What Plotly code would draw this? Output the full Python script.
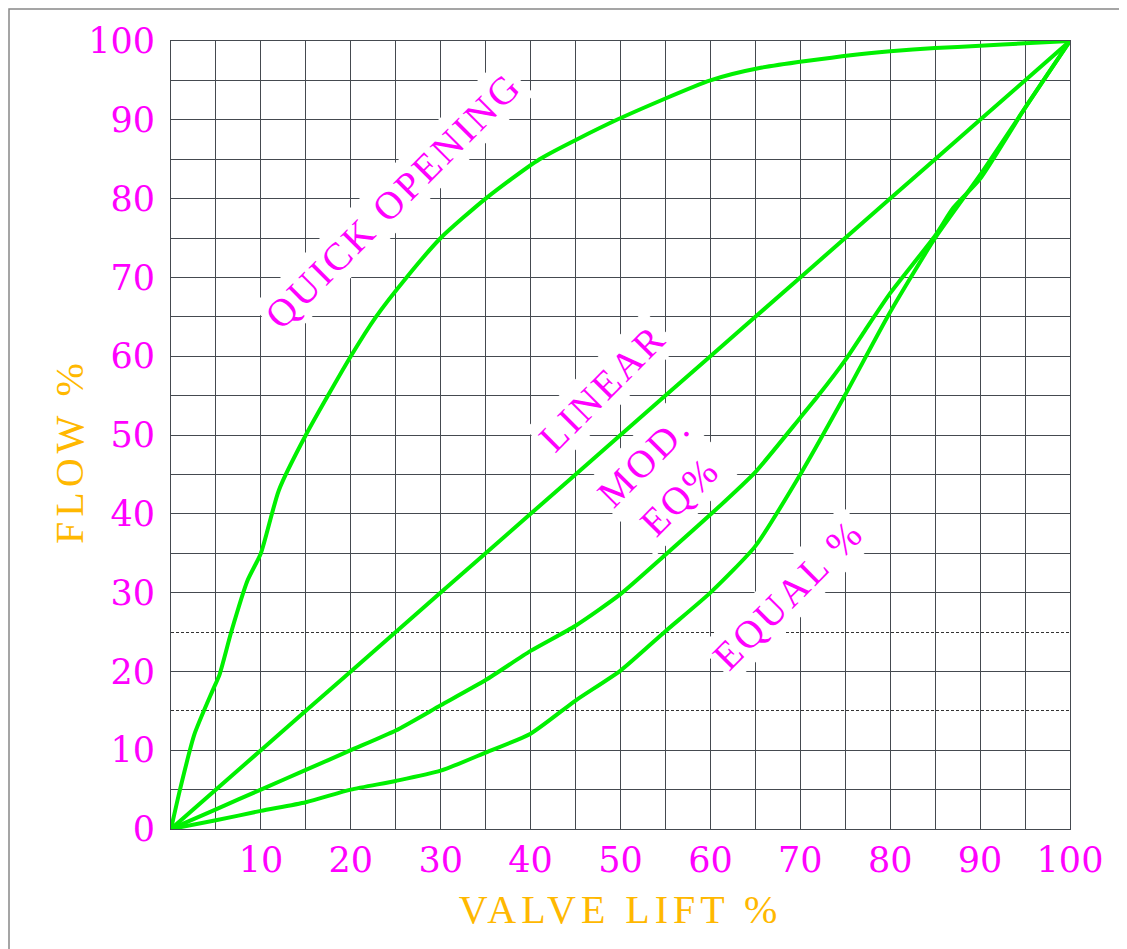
import plotly.graph_objects as go

# ---- data ----
lift_quick = [0, 1, 2.6, 4.6, 5.4, 6.7, 8.5, 10, 12, 15, 20, 22.8, 26.2, 30, 35, 41, 49.6, 60, 65.6, 75.6, 80, 85, 90, 95, 100]
flow_quick = [0, 5, 12, 17.5, 19.6, 25, 31.5, 35, 43, 50, 60, 65, 70, 75, 80, 85, 90, 95, 96.6, 98.2, 98.7, 99.1, 99.4, 99.7, 100]

lift_linear = [0, 10, 20, 30, 40, 50, 60, 70, 80, 90, 100]
flow_linear = [0, 10, 20, 30, 40, 50, 60, 70, 80, 90, 100]

lift_mod = [0, 5, 10, 15, 20, 25, 30, 35, 40, 45, 50, 55, 60, 65, 70, 72, 75, 77.1, 80, 85, 87, 90, 95, 100]
flow_mod = [0, 2.5, 5, 7.5, 10, 12.5, 15.7, 18.9, 22.6, 25.8, 29.8, 34.8, 39.9, 45.3, 52.2, 55, 59.5, 63.1, 68, 75.3, 78.8, 82.5, 91.5, 100]

lift_equal = [0, 5, 10, 15, 20, 25, 30, 35, 40, 45, 50, 55, 60, 65, 70, 75, 80, 85, 90, 95, 100]
flow_equal = [0, 1.1, 2.3, 3.4, 5, 6.1, 7.4, 9.7, 12.1, 16.3, 20.1, 25.1, 30, 35.9, 45, 55.1, 65.6, 75, 83, 91.5, 100]

x_ticks = [10, 20, 30, 40, 50, 60, 70, 80, 90, 100]
y_ticks = [0, 10, 20, 30, 40, 50, 60, 70, 80, 90, 100]
grid_x = list(range(0, 101, 5))
grid_y = [v for v in range(0, 101, 5) if v not in (15, 25)]
dashed_y = [15, 25]

labels = ["QUICK OPENING", "LINEAR", "MOD.<br>EQ%", "EQUAL %"]
label_x = [24.7, 48.0, 54.6, 68.6]
label_y = [79.7, 56.0, 44.6, 29.8]

GREEN = "#00F000"
MAGENTA = "#FF00FF"
ORANGE = "#FFB800"
GRID = "#454a50"

fig = go.Figure()
for xs, ys in [(lift_quick, flow_quick), (lift_linear, flow_linear),
               (lift_mod, flow_mod), (lift_equal, flow_equal)]:
    fig.add_trace(go.Scatter(x=xs, y=ys, mode="lines",
                             line=dict(color=GREEN, width=4, shape="spline", smoothing=0.6),
                             showlegend=False, hoverinfo="skip"))

for t, ax, ay in zip(labels, label_x, label_y):
    fig.add_annotation(x=ax, y=ay, xref="x", yref="y", showarrow=False,
                       text='<span style="letter-spacing:3px">' + t + '</span>',
                       textangle=-45, bgcolor="white", borderpad=3,
                       font=dict(family="Liberation Serif", size=39, color=MAGENTA))

# y-axis title
fig.add_annotation(x=(68 - 170) / 899, y=(828 - 450) / 788, xref="paper", yref="paper",
                   xanchor="center", yanchor="middle",
                   showarrow=False, textangle=-90,
                   text='<span style="letter-spacing:5px">FLOW %</span>',
                   font=dict(family="Liberation Serif", size=40, color=ORANGE))

# figure border
fig.add_shape(type="rect", xref="paper", yref="paper",
              x0=(8 - 170) / 899, x1=(1140 - 170) / 899,
              y0=(828 - 960) / 788, y1=(828 - 8) / 788,
              line=dict(color="#888888", width=1.5), fillcolor="rgba(0,0,0,0)", layer="below")

x_text = {v: (str(v) if v in x_ticks else "") for v in grid_x}
y_text = {v: (str(v) if v in y_ticks else "") for v in grid_y}

fig.update_layout(
    width=1127, height=949,
    margin=dict(l=163, r=65, t=33, b=128),
    paper_bgcolor="white", plot_bgcolor="white",
    xaxis=dict(range=[0, 100], tickmode="array", tickvals=grid_x,
               ticktext=[x_text[v] for v in grid_x],
               showgrid=True, gridcolor=GRID, gridwidth=1, zeroline=False,
               showline=True, mirror=True, linecolor=GRID, linewidth=1,
               ticks="", ticklabelstandoff=0,
               tickfont=dict(family="DejaVu Serif", size=35, color=MAGENTA),
               title=dict(text='<span style="letter-spacing:5px">VALVE LIFT %</span>',
                          font=dict(family="Liberation Serif", size=40, color=ORANGE),
                          standoff=15)),
    yaxis=dict(range=[0, 100], tickmode="array", tickvals=grid_y,
               ticktext=[y_text[v] for v in grid_y],
               showgrid=True, gridcolor=GRID, gridwidth=1, zeroline=False,
               showline=True, mirror=True, linecolor=GRID, linewidth=1,
               ticks="", ticklabelstandoff=8,
               minor=dict(tickvals=dashed_y, showgrid=True, gridcolor="#333333",
                          gridwidth=1, griddash="3px,2px"),
               tickfont=dict(family="DejaVu Serif", size=35, color=MAGENTA)),
)

fig.write_html("out.html")
